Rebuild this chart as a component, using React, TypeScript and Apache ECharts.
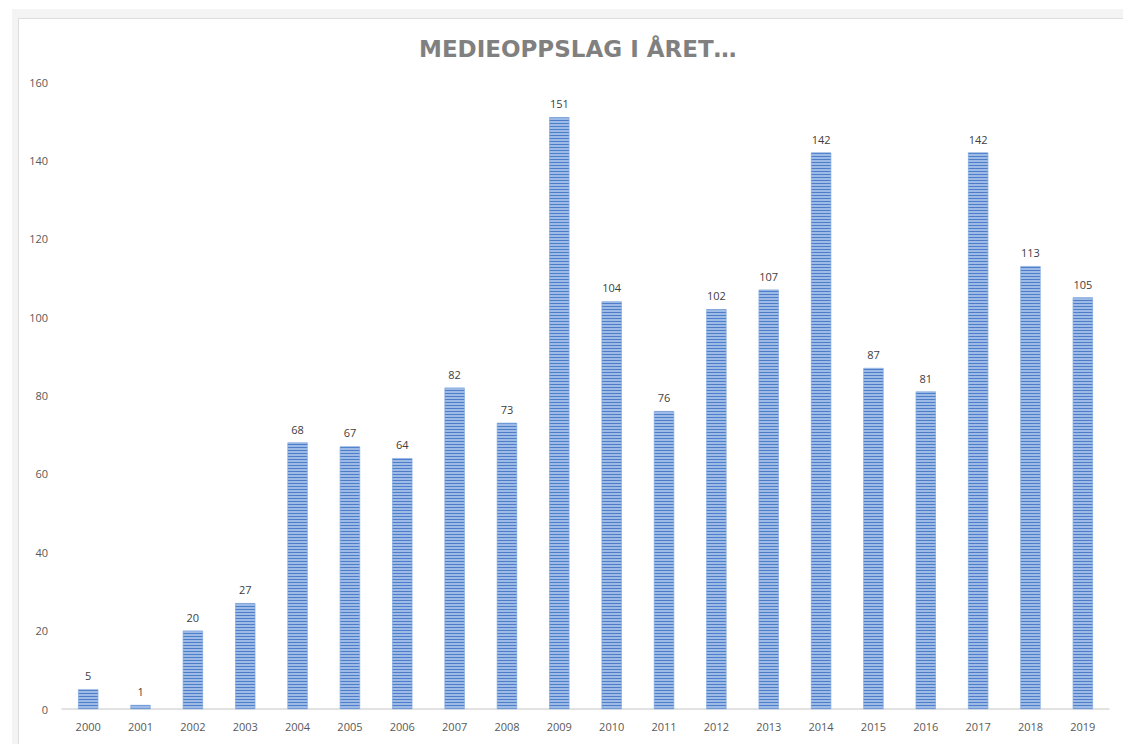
import React, { useEffect, useRef } from "react";
import * as echarts from "echarts";

const years = ["2000","2001","2002","2003","2004","2005","2006","2007","2008","2009","2010","2011","2012","2013","2014","2015","2016","2017","2018","2019"];
const counts = [5, 1, 20, 27, 68, 67, 64, 82, 73, 151, 104, 76, 102, 107, 142, 87, 81, 142, 113, 105];
const titleText = "MEDIEOPPSLAG I ÅRET…";

export default function App() {
  const ref = useRef<HTMLDivElement>(null);
  useEffect(() => {
    document.body.style.margin = "0";
    const chart = echarts.init(ref.current!, null, { renderer: "svg" });
    chart.setOption({
      animation: false,
      textStyle: { fontFamily: "Open Sans" },
      title: {
        text: titleText,
        left: 414,
        top: 32,
        textStyle: { fontFamily: "DejaVu Sans", fontSize: 23, fontWeight: "bold", color: "#808080" },
      },
      grid: { left: 62, right: 14, top: 82, bottom: 35 },
      xAxis: {
        type: "category",
        data: years,
        axisLine: { lineStyle: { color: "#d9d9d9", width: 1.5 } },
        axisTick: { show: false },
        axisLabel: { color: "#595959", fontSize: 11, margin: 12 },
      },
      yAxis: {
        type: "value",
        min: 0,
        max: 160,
        interval: 20,
        axisLine: { show: false },
        axisTick: { show: false },
        splitLine: { show: false },
        axisLabel: { color: "#595959", fontSize: 11, margin: 14 },
      },
      series: [
        {
          type: "bar",
          data: counts,
          barWidth: 20,
          itemStyle: {
            color: "#9dbbe6",
            borderColor: "#8aaee0",
            borderWidth: 0.5,
            decal: {
              symbol: "rect",
              symbolSize: 1,
              dashArrayX: [1, 0],
              dashArrayY: [1, 2],
              color: "#4f7ec9",
              rotation: 0,
            },
          },
          label: { show: true, position: "top", distance: 8, color: "#404040", fontSize: 11 },
        },
      ],
    });
    return () => chart.dispose();
  }, []);
  return (
    <div style={{ position: "relative", width: 1123, height: 744, background: "#ffffff", overflow: "hidden" }}>
      <div style={{ position: "absolute", left: 12, top: 9, width: 1111, height: 735, background: "#f4f4f4" }} />
      <div style={{ position: "absolute", left: 18, top: 18, width: 1105, height: 726, background: "#ffffff", borderTop: "1px solid #dedede", borderLeft: "1px solid #dedede" }} />
      <div ref={ref} style={{ position: "absolute", left: 0, top: 0, width: 1123, height: 744 }} />
    </div>
  );
}
